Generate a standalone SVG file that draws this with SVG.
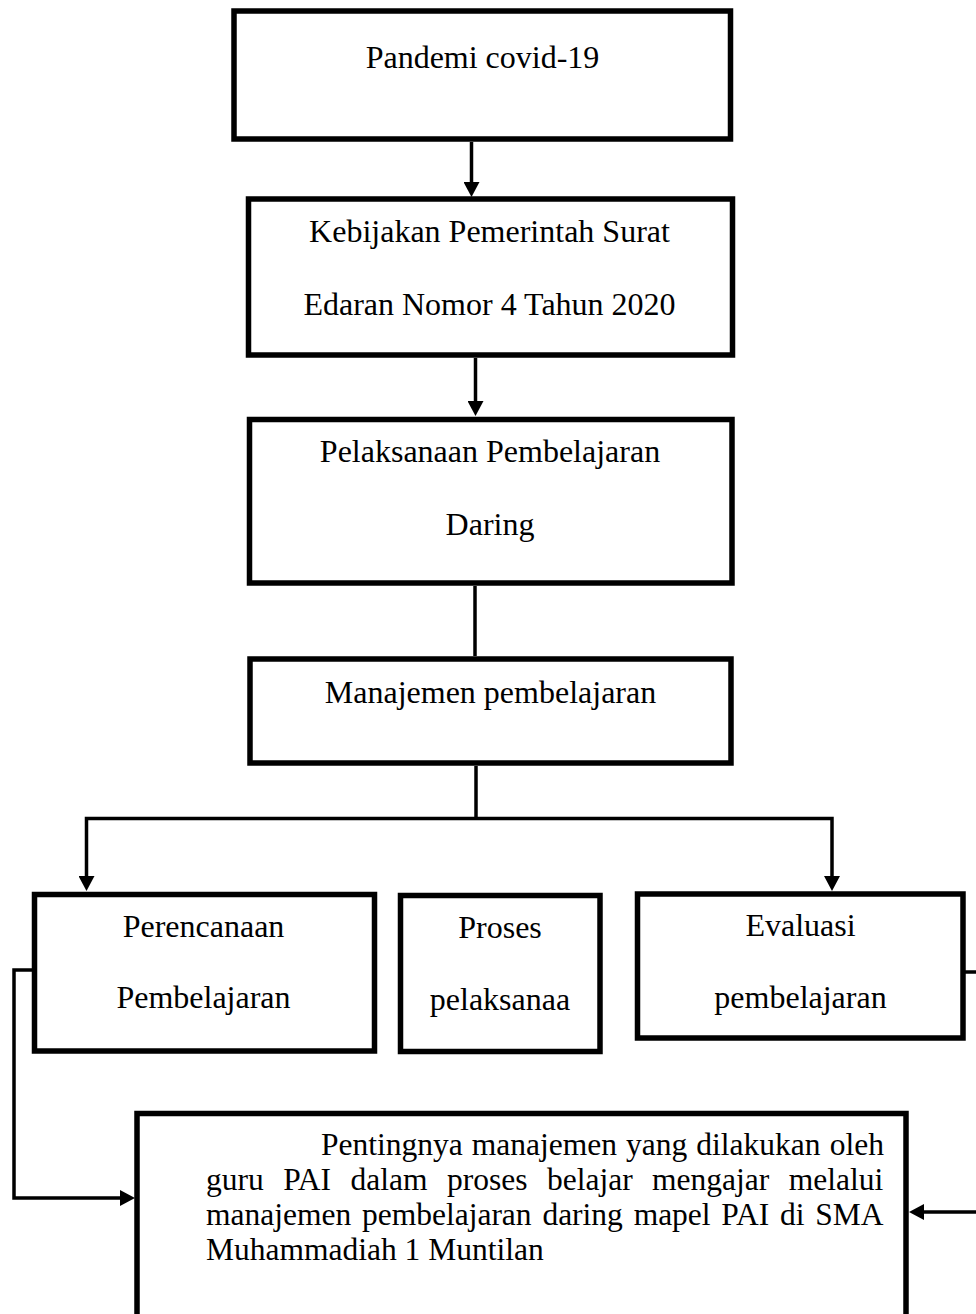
<svg xmlns="http://www.w3.org/2000/svg" width="976" height="1314" viewBox="0 0 976 1314">
<style>
.box{fill:#fff;stroke:#000;stroke-width:5.5}
.conn{fill:none;stroke:#000;stroke-width:3.5;stroke-linejoin:miter}
.lbl{font-family:"Liberation Serif","Times New Roman",serif;font-size:32px;fill:#000;text-anchor:middle}
.para{font-family:"Liberation Serif","Times New Roman",serif;font-size:31.5px;fill:#000;text-anchor:start}
</style>
<defs>
<marker id="arr" markerUnits="userSpaceOnUse" markerWidth="16" markerHeight="16" refX="7" refY="8" orient="auto">
<path d="M0,0 L15,8 L0,16 z" fill="#000"/>
</marker>
</defs>
<rect width="976" height="1314" fill="#fff"/>
<g id="connectors">
<path class="conn" d="M471.5,142 V189" marker-end="url(#arr)"/>
<path class="conn" d="M475.5,358 V408" marker-end="url(#arr)"/>
<path class="conn" d="M475,586 V656"/>
<path class="conn" d="M476,766 V818.5"/>
<path class="conn" d="M476,818.5 H86.5 V883" marker-end="url(#arr)"/>
<path class="conn" d="M476,818.5 H832 V883" marker-end="url(#arr)"/>
<path class="conn" d="M34.5,970 H14 V1198 H127" marker-end="url(#arr)"/>
<path class="conn" d="M963,972 H990 V1212 H917" marker-end="url(#arr)"/>
</g>
<g id="n1">
<rect class="box" x="234" y="11" width="496.5" height="128"/>
<text class="lbl" x="482.5" y="68">Pandemi covid-19</text>
</g>
<g id="n2">
<rect class="box" x="248.5" y="199" width="484" height="156"/>
<text class="lbl" x="489.5" y="242">Kebijakan Pemerintah Surat</text>
<text class="lbl" x="489.5" y="315">Edaran Nomor 4 Tahun 2020</text>
</g>
<g id="n3">
<rect class="box" x="249.5" y="419.5" width="482.5" height="163.5"/>
<text class="lbl" x="490" y="462">Pelaksanaan Pembelajaran</text>
<text class="lbl" x="490" y="535">Daring</text>
</g>
<g id="n4">
<rect class="box" x="250" y="659" width="481" height="104"/>
<text class="lbl" x="490.5" y="703">Manajemen pembelajaran</text>
</g>
<g id="n5">
<rect class="box" x="34.5" y="894.5" width="340" height="156.5"/>
<text class="lbl" x="203.5" y="937">Perencanaan</text>
<text class="lbl" x="203.5" y="1008">Pembelajaran</text>
</g>
<g id="n6">
<rect class="box" x="400.5" y="895.5" width="199.5" height="156"/>
<text class="lbl" x="500" y="938">Proses</text>
<text class="lbl" x="500" y="1010">pelaksanaa</text>
</g>
<g id="n7">
<rect class="box" x="637.5" y="894" width="325.5" height="144"/>
<text class="lbl" x="800.5" y="936">Evaluasi</text>
<text class="lbl" x="800.5" y="1008">pembelajaran</text>
</g>
<g id="n8">
<rect class="box" x="137" y="1113.5" width="769" height="240"/>
<text class="para" x="321" y="1155" word-spacing="1.2">Pentingnya manajemen yang dilakukan oleh</text>
<text class="para" x="206" y="1190" word-spacing="11.6">guru PAI dalam proses belajar mengajar melalui</text>
<text class="para" x="206" y="1225" word-spacing="2.9">manajemen pembelajaran daring mapel PAI di SMA</text>
<text class="para" x="206" y="1260">Muhammadiah 1 Muntilan</text>
</g>
</svg>
